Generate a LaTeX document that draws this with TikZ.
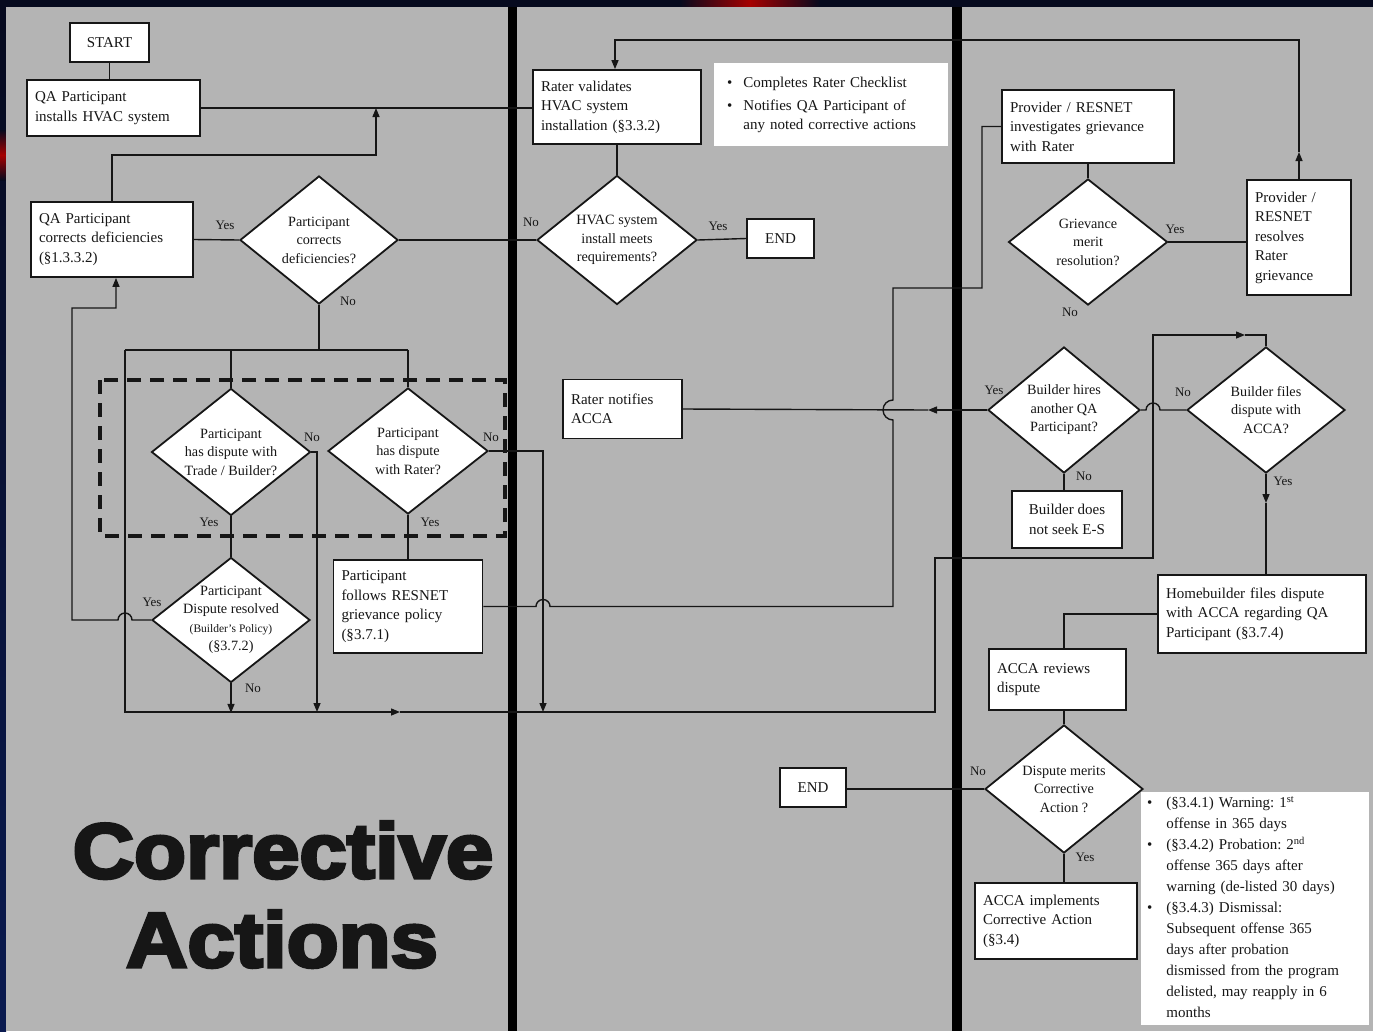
\documentclass[tikz,border=0pt]{standalone}
\usepackage{fontspec}
\setmainfont{Liberation Serif}
\newfontfamily\heavyfont{Liberation Sans Bold}[FakeBold=4]
\usetikzlibrary{shapes.geometric,arrows.meta}
\newcommand\dgfont{\fontsize{15}{19.5}\selectfont}
\newcommand\dtfont{\fontsize{14.2}{18.5}\selectfont}
\newcommand\lblfont{\fontsize{13}{14}\selectfont}
\definecolor{panel}{RGB}{180,180,180}
\definecolor{slidebg}{RGB}{6,10,30}
\definecolor{slidenavy}{RGB}{10,26,80}
\definecolor{ink}{RGB}{22,22,22}
\frenchspacing

\begin{document}
\begin{tikzpicture}[x=1pt,y=-1pt,
  box/.style={draw=ink, fill=white, line width=1.8pt, align=left, font=\dgfont,
              inner xsep=8pt, inner ysep=0pt, text=ink},
  cbox/.style={box, align=center},
  dia/.style={diamond, draw=ink, fill=white, line width=1.8pt, inner sep=0pt},
  dtext/.style={align=center, font=\dtfont, text=ink, inner sep=0pt},
  conn/.style={draw=ink, line width=1.4pt},
  arr/.style={conn, -{Triangle[length=9pt,width=7pt]}},
  lbl/.style={font=\lblfont, text=ink, inner sep=0pt},
  note/.style={fill=white, font=\dgfont, text=ink, anchor=north west, inner sep=0pt, align=left},
]
\useasboundingbox (0,0) rectangle (1373,1031);

% slide background and grey panel
\fill[slidebg] (0,0) rectangle (1373,1031);
\shade[top color=slidebg, bottom color=slidenavy] (0,0) rectangle (6,1031);
\shade[left color=slidebg, right color=slidebg, middle color=red!65!black] (680,0) rectangle (820,7);
\shade[top color=slidebg, bottom color=slidebg, middle color=red!65!black] (0,130) rectangle (6,180);
\fill[panel] (6,7) rectangle (1373,1031);

% column separators
\fill[black] (508,7) rectangle (517,1031);
\fill[black] (952,7) rectangle (962,1031);

% dispute group frame
\draw[ink, line width=4pt, dash pattern=on 14pt off 9pt] (100,380) rectangle (505,536);

% white note panels
\node[note, text width=234pt, minimum height=83pt] (notes1) at (714,63)
  {\hspace{13pt}\begin{tabular}{@{}l@{\hspace{11pt}}l@{}}
   \textbullet & Completes Rater Checklist\\[3pt]
   \textbullet & Notifies QA Participant of\\
   & any noted corrective actions
   \end{tabular}};
\node[note, text width=228pt, minimum height=233pt] (notes2) at (1141,792)
  {\hspace{6pt}\fontsize{15}{21}\selectfont\begin{tabular}{@{}l@{\hspace{14pt}}l@{}}
   \textbullet & (§3.4.1) Warning: 1\textsuperscript{st}\\
   & offense in 365 days\\
   \textbullet & (§3.4.2) Probation: 2\textsuperscript{nd}\\
   & offense 365 days after\\
   & warning (de-listed 30 days)\\
   \textbullet & (§3.4.3) Dismissal:\\
   & Subsequent offense 365\\
   & days after probation\\
   & dismissed from the program\\
   & delisted, may reapply in 6\\
   & months
   \end{tabular}};

% process boxes
\node[cbox, minimum width=79pt, minimum height=39pt] (start) at (109.5,42.5) {START};
\node[box, text width=157pt, minimum height=56pt] (qainst) at (113.5,108) {QA Participant\\installs HVAC system};
\node[box, text width=146pt, minimum height=75pt] (qacorr) at (112,239.5) {QA Participant\\corrects deficiencies\\(§1.3.3.2)};
\node[box, text width=152pt, minimum height=74pt] (rater) at (617,107) {Rater validates\\HVAC system\\installation (§3.3.2)};
\node[cbox, minimum width=67pt, minimum height=39pt] (end1) at (780.5,238.5) {END};
\node[box, text width=133pt, minimum height=93pt] (resnet) at (408,606.5) {Participant\\follows RESNET\\grievance policy\\(§3.7.1)};
\node[box, text width=103pt, minimum height=59pt] (notify) at (622.5,409) {Rater notifies\\ACCA};
\node[box, text width=156pt, minimum height=73pt] (provinv) at (1088,126.5) {Provider / RESNET\\investigates grievance\\with Rater};
\node[box, text width=88pt, minimum height=115pt] (provres) at (1299,237.5) {Provider /\\RESNET\\resolves\\Rater\\grievance};
\node[cbox, minimum width=110pt, minimum height=57pt] (nosk) at (1067,519.5) {Builder does\\not seek E-S};
\node[box, text width=192pt, minimum height=78pt] (homeb) at (1262,614) {Homebuilder files dispute\\with ACCA regarding QA\\Participant (§3.7.4)};
\node[box, text width=121pt, minimum height=61pt] (accarev) at (1057.5,679.5) {ACCA reviews\\dispute};
\node[cbox, minimum width=66pt, minimum height=39pt] (end2) at (813,787.5) {END};
\node[box, text width=146pt, minimum height=76pt] (accaimp) at (1056,921) {ACCA implements\\Corrective Action\\(§3.4)};

% decisions
\node[dia, minimum width=158pt, minimum height=128pt,
  label={[dtext]center:{Participant\\corrects\\deficiencies?}}] (pcd) at (319,240) {};
\node[dia, minimum width=160pt, minimum height=129pt,
  label={[dtext]center:{HVAC system\\install meets\\requirements?}}] (hvac) at (617,240) {};
\node[dia, minimum width=159pt, minimum height=127pt,
  label={[dtext]center:{Participant\\has dispute with\\Trade / Builder?}}] (trade) at (231,452) {};
\node[dia, minimum width=160pt, minimum height=126pt,
  label={[dtext]center:{Participant\\has dispute\\with Rater?}}] (rdisp) at (408,451) {};
\node[dia, minimum width=158pt, minimum height=125pt,
  label={[dtext]center:{Participant\\Dispute resolved\\{\fontsize{11.5}{14}\selectfont(Builder’s Policy)}\\(§3.7.2)}}] (dres) at (231,620) {};
\node[dia, minimum width=159pt, minimum height=126pt,
  label={[dtext]center:{Grievance\\merit\\resolution?}}] (griev) at (1088,242) {};
\node[dia, minimum width=152pt, minimum height=126pt,
  label={[dtext]center:{Builder hires\\another QA\\Participant?}}] (bhires) at (1064,410) {};
\node[dia, minimum width=158pt, minimum height=126pt,
  label={[dtext]center:{Builder files\\dispute with\\ACCA?}}] (bfiles) at (1266,410) {};
\node[dia, minimum width=158pt, minimum height=128pt,
  label={[dtext]center:{Dispute merits\\Corrective\\Action ?}}] (dmerits) at (1064,789) {};

% junction points on the connectors
\coordinate (jtop) at (376,108);
\coordinate (jsplit) at (319,350);
\coordinate (jbot) at (125,712);

% connectors: left column
\draw[conn] (start.south) -- (start.south |- qainst.north);
\draw[conn] (qainst.east) -- (qainst.east -| rater.west);
\draw[arr] (qacorr.north) |- (376,155) -- (jtop);
\draw[conn] (qacorr.east) -- (pcd.west);
\draw[conn] (pcd.east) -- (hvac.west);
\draw[conn] (pcd.south) -- (jsplit);
\draw[conn] (125,350) -- (408,350);
\draw[conn] (231,350) -- (trade.north);
\draw[conn] (408,350) -- (rdisp.north);
\draw[arr] (125,350) -- (jbot) -- (400,712);
\draw[arr] (400,712) -- (935,712) -- (935,558) -- (1153,558) -- (1153,335) -- (1245,335);
\draw[conn] (1245,335) -- (bfiles.north |- 0,335) -- (bfiles.north);
\draw[arr] (trade.east) -- (317,452) -- (317,712);
\draw[conn] (trade.south) -- (dres.north);
\draw[arr] (dres.west) -- (132,620) arc[start angle=0, end angle=180, radius=7pt]
  -- (72,620) -- (72,308) -- (116,308) -- ([xshift=4pt]qacorr.south);
\draw[arr] (dres.south) -- ++(0,29.5);
\draw[arr] (rdisp.east) -- (543,451) -- (543,712);
\draw[conn] (rdisp.south) -- (resnet.north);
\draw[conn] (resnet.east) -- (536,606.5) arc[start angle=180, end angle=0, radius=7pt]
  -- (893,606.5) -- (893,420) arc[start angle=270, end angle=90, radius=10pt]
  -- (893,288) -- (982,288) |- (provinv.west);

% connectors: top loop back to the rater
\draw[arr] (provres.north) -- (1299,152);
\draw[arr] (1299,152) -- (1299,40) -- (615,40) -- ([xshift=-2pt]rater.north);
\draw[conn] (rater.south) -- (hvac.north);
\draw[conn] (hvac.east) -- (end1.west);

% connectors: right column
\draw[conn] (provinv.south) -- (griev.north);
\draw[conn] (griev.east) -- (griev.east -| provres.west);
\draw[arr] (bhires.west) -- (928,410);
\draw[conn] (928,410) -- (notify.east);
\draw[conn] (bhires.east) -- (1146,410) arc[start angle=180, end angle=0, radius=7pt] -- (bfiles.west);
\draw[conn] (bhires.south) -- (bhires.south |- nosk.north);
\draw[arr] (bfiles.south) -- (1266,503);
\draw[conn] (1266,503) -- (bfiles.south |- homeb.north);
\draw[conn] (homeb.west) -| ([xshift=6.5pt]accarev.north);
\draw[conn] (dmerits.north |- accarev.south) -- (dmerits.north);
\draw[conn] (dmerits.west) -- (dmerits.west -| end2.east);
\draw[conn] (dmerits.south) -- (dmerits.south |- accaimp.north);

% branch labels
\node[lbl] (l1) at (225,225) {Yes};
\node[lbl] (l2) at (348,301) {No};
\node[lbl] (l3) at (531,222) {No};
\node[lbl] (l4) at (718,226) {Yes};
\node[lbl] (l5) at (312,437) {No};
\node[lbl] (l6) at (209,522) {Yes};
\node[lbl] (l7) at (491,437) {No};
\node[lbl] (l8) at (430,522) {Yes};
\node[lbl] (l9) at (152,602) {Yes};
\node[lbl] (l10) at (253,688) {No};
\node[lbl] (l11) at (1175,229) {Yes};
\node[lbl] (l12) at (1070,312) {No};
\node[lbl] (l13) at (994,390) {Yes};
\node[lbl] (l14) at (1084,476) {No};
\node[lbl] (l15) at (1183,392) {No};
\node[lbl] (l16) at (1283,481) {Yes};
\node[lbl] (l17) at (978,771) {No};
\node[lbl] (l18) at (1085,857) {Yes};

% slide title
\node[font=\heavyfont\fontsize{78}{80}\selectfont, text=ink, anchor=base, inner sep=0pt]
  (title1) at (283,878) {\scalebox{1.09}[1]{Corrective}};
\node[font=\heavyfont\fontsize{78}{80}\selectfont, text=ink, anchor=base, inner sep=0pt]
  (title2) at (282,967) {\scalebox{1.09}[1]{Actions}};
\end{tikzpicture}
\end{document}
